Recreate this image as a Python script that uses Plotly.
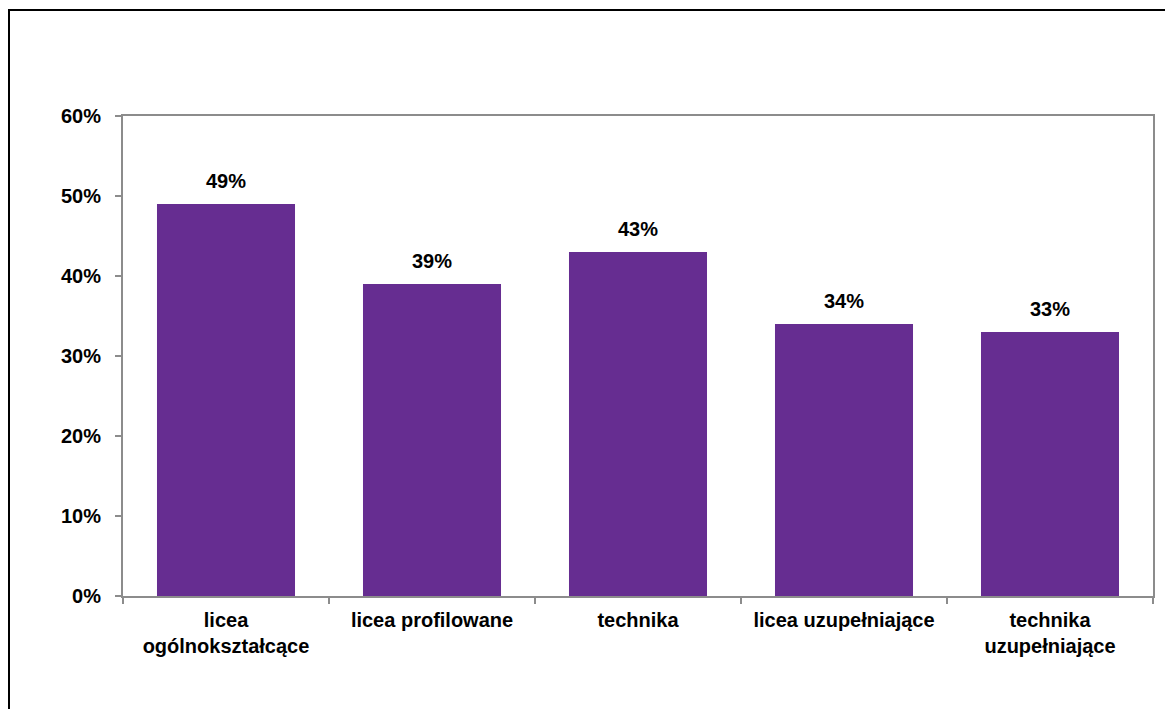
import plotly.graph_objects as go

categories = ["licea<br>ogólnokształcące", "licea profilowane", "technika",
              "licea uzupełniające", "technika<br>uzupełniające"]
values = [49, 39, 43, 34, 33]
labels = ["49%", "39%", "43%", "34%", "33%"]
y_ticks = [0, 10, 20, 30, 40, 50, 60]
y_tick_labels = ["0%", "10%", "20%", "30%", "40%", "50%", "60%"]

# page body has an 8px default margin; figure-local pixel layout below
W, H = 1173, 709
ML, MR, MT, MB = 115, 28, 108, 121
FONT = "Liberation Sans, Arial, sans-serif"
AX = "#8c8c8c"
TF = dict(family=FONT, size=20, color="black", weight="bold")

fig = go.Figure()
fig.add_trace(go.Bar(
    x=categories, y=values,
    marker=dict(color="#662d91", line=dict(width=0)),
    hoverinfo="skip",
))

for c, v, t in zip(categories, values, labels):
    fig.add_annotation(x=c, y=v, text=t, showarrow=False, yanchor="bottom",
                       yshift=10, font=TF)

pw = W - ML - MR
ph = H - MT - MB
fig.add_shape(type="rect", xref="paper", yref="paper",
              x0=(1 - ML) / pw, x1=(W + 30 - ML) / pw,
              y0=(H - MB - (H + 30)) / ph, y1=(H - MB - 2) / ph,
              line=dict(color="black", width=2), fillcolor="rgba(0,0,0,0)",
              layer="below")

fig.update_layout(
    width=W, height=H,
    margin=dict(l=ML, r=MR, t=MT, b=MB, pad=0),
    paper_bgcolor="white", plot_bgcolor="white",
    bargap=0.33, showlegend=False,
    font=TF,
)
fig.update_xaxes(
    showline=True, linecolor=AX, linewidth=2, mirror=True,
    ticks="outside", tickson="boundaries", ticklen=6, tickcolor=AX, tickwidth=2,
    showgrid=False, zeroline=False, ticklabelstandoff=5,
    tickfont=TF,
)
fig.update_yaxes(
    range=[0, 60], tickvals=y_ticks, ticktext=y_tick_labels,
    showline=True, linecolor=AX, linewidth=2, mirror=True,
    ticks="outside", ticklen=6, tickcolor=AX, tickwidth=2,
    showgrid=False, zeroline=False, ticklabelstandoff=10,
    tickfont=TF,
)

fig.write_html("out.html")
